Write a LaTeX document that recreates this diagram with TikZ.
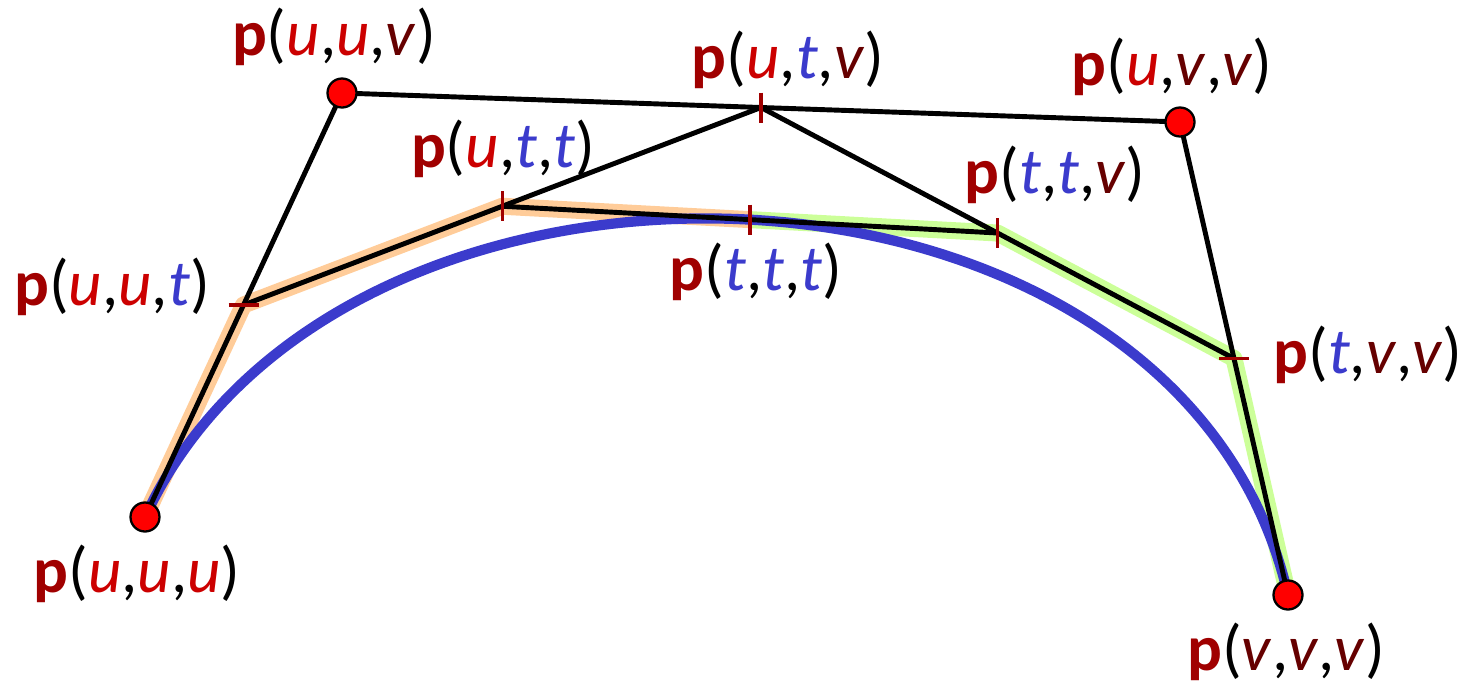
\documentclass[tikz,border=0pt]{standalone}
\usepackage{fontspec}
\setmainfont{Carlito}
\usetikzlibrary{calc}
\definecolor{pcol}{HTML}{A00000}
\definecolor{ucol}{HTML}{CC0000}
\definecolor{tcol}{HTML}{3B3BCC}
\definecolor{vcol}{HTML}{660000}
\definecolor{leftcol}{HTML}{FFCC99}
\definecolor{rightcol}{HTML}{CCFF99}
\newcommand{\vu}{\textcolor{ucol}{\textit{u}}}
\newcommand{\vt}{\textcolor{tcol}{\textit{t}}}
\newcommand{\vv}{\textcolor{vcol}{\textit{v}}}
\newcommand{\blossom}[3]{\textcolor{pcol}{\textbf{p}}(#1,#2,#3)}
\begin{document}
\begin{tikzpicture}[x=0.02cm, y=-0.02cm,
    ctrl/.style={circle, draw=black, fill=red, line width=1.3pt,
      minimum size=0.58cm, inner sep=0pt},
    hull/.style={line width=2.8pt, black},
    tickmark/.style={line width=1.9pt, pcol},
    band/.style={line width=0.34cm, line join=round},
    lbl/.style={font=\fontsize{37}{40}\selectfont, anchor=base}]
  \useasboundingbox (0,0) rectangle (1468,684);
  % control points and de Casteljau points
  \def\tpar{0.5}
  \coordinate (uuu) at (145,517);
  \coordinate (uuv) at (342,93);
  \coordinate (uvv) at (1180,122);
  \coordinate (vvv) at (1288,595);
  \coordinate (uut) at ($(uuu)!\tpar!(uuv)$);
  \coordinate (utv) at ($(uuv)!\tpar!(uvv)$);
  \coordinate (tvv) at ($(uvv)!\tpar!(vvv)$);
  \coordinate (utt) at ($(uut)!\tpar!(utv)$);
  \coordinate (ttv) at ($(utv)!\tpar!(tvv)$);
  \coordinate (ttt) at ($(utt)!\tpar!(ttv)$);
  % the two halves
  \draw[band, leftcol] (uuu) -- (uut) -- (utt) -- (ttt);
  \draw[band, rightcol] (ttt) -- (ttv) -- (tvv) -- (vvv);
  \draw[tcol, line width=5.8pt] (uuu) .. controls (uuv) and (uvv) .. (vvv);
  % polygons
  \draw[hull] (uuu) -- (uuv) -- (uvv) -- (vvv);
  \draw[hull] (uut) -- (utv) -- (tvv);
  \draw[hull] (utt) -- (ttv);
  \foreach \pt in {utv,utt,ttt,ttv}
    \draw[tickmark] ($(\pt)+(0,-15)$) -- ($(\pt)+(0,15)$);
  \foreach \pt in {uut,tvv}
    \draw[tickmark] ($(\pt)+(-15,0)$) -- ($(\pt)+(15,0)$);
  \foreach \pt in {uuu,uuv,uvv,vvv}
    \node[ctrl] (dot\pt) at (\pt) {};
  % labels
  \node[lbl] (luuu) at (137,592) {\blossom{\vu}{\vu}{\vu}};
  \node[lbl] (luuv) at (334,55) {\blossom{\vu}{\vu}{\vv}};
  \node[lbl] (lutv) at (788,78) {\blossom{\vu}{\vt}{\vv}};
  \node[lbl] (luvv) at (1172,85) {\blossom{\vu}{\vv}{\vv}};
  \node[lbl] (lutt) at (503,167) {\blossom{\vu}{\vt}{\vt}};
  \node[lbl] (lttv) at (1055,193) {\blossom{\vt}{\vt}{\vv}};
  \node[lbl] (luut) at (112,305) {\blossom{\vu}{\vu}{\vt}};
  \node[lbl] (lttt) at (756,290) {\blossom{\vt}{\vt}{\vt}};
  \node[lbl] (ltvv) at (1368,373) {\blossom{\vt}{\vv}{\vv}};
  \node[lbl] (lvvv) at (1286,670) {\blossom{\vv}{\vv}{\vv}};
\end{tikzpicture}
\end{document}
